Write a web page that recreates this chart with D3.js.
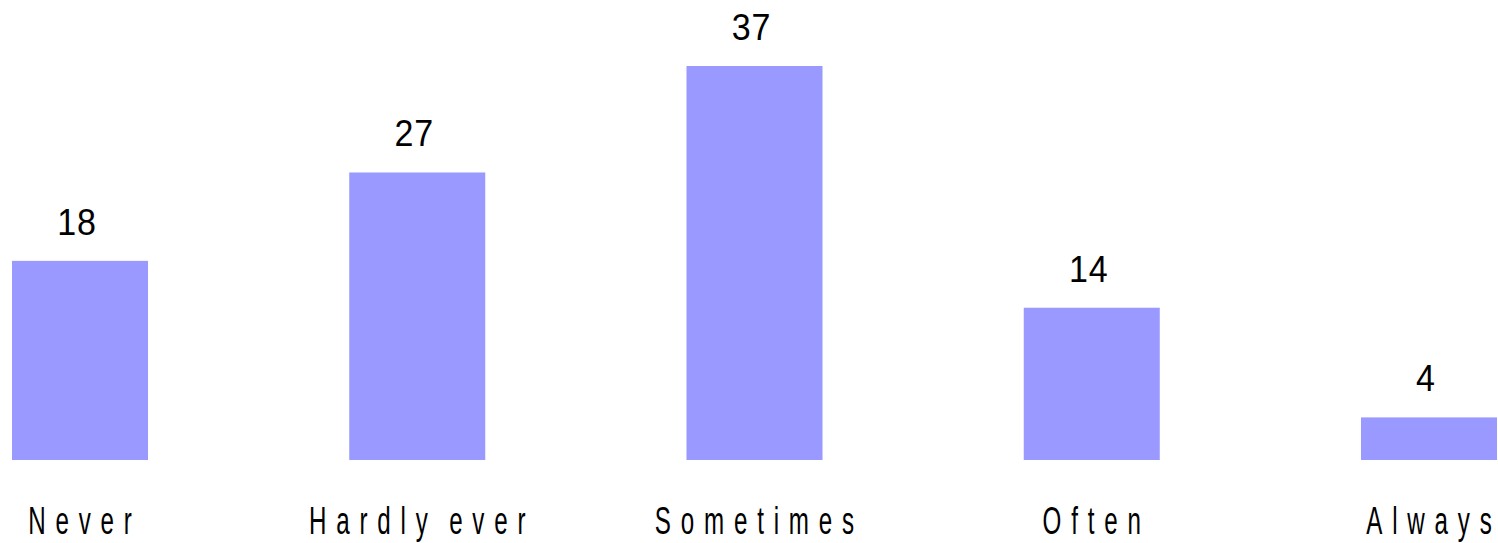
<!DOCTYPE html>
<html><head><meta charset="utf-8">
<script src="https://cdn.jsdelivr.net/npm/d3@7"></script>
<style>
body{margin:0;background:#fff;}
text{font-family:"Liberation Sans",Arial,sans-serif;fill:#000;}
</style></head>
<body><svg id="c" width="1498" height="543"></svg>
<script>
const categories = ["Never", "Hardly ever", "Sometimes", "Often", "Always"];
const values = [18.7, 27, 37, 14.3, 4];
const valueLabels = ["18", "27", "37", "14", "4"];

const svg = d3.select("#c");
const x = d3.scaleBand().domain(categories).range([12, 1497]).paddingInner(0.5967).paddingOuter(0);
const y = d3.scaleLinear().domain([0, 37]).range([460, 66]);

svg.selectAll("rect.bar").data(values).join("rect").attr("class","bar")
  .attr("x", (d,i) => x(categories[i]))
  .attr("y", d => y(d))
  .attr("width", x.bandwidth())
  .attr("height", d => y(0) - y(d))
  .attr("fill", "#9999ff");

svg.selectAll("text.val").data(values).join("text").attr("class","val")
  .attr("x", (d,i) => x(categories[i]) + x.bandwidth()/2 - 3)
  .attr("y", d => y(d) - 26)
  .attr("text-anchor","middle")
  .attr("transform", (d,i) => { const cx = x(categories[i]) + x.bandwidth()/2 - 3; return `translate(${cx},0) scale(0.92,1) translate(${-cx},0)`; })
  .style("font-size","37px").style("letter-spacing","1px")
  .text((d,i) => valueLabels[i]);

const sx = 0.62, ls = 15.8;
const xAxis = d3.axisBottom(x).tickSize(0).tickPadding(0);
const g = svg.append("g").attr("transform","translate(0,460)").call(xAxis);
g.select(".domain").remove();
g.selectAll("text").each(function(d) {
  const t = d3.select(this);
  t.text(null).attr("dy", null).attr("y", 74).attr("x", 0)
    .attr("transform", `scale(${sx},1)`)
    .style("font-size","39px")
    .style("font-family",'"Liberation Sans",Arial,sans-serif')
    .style("word-spacing","-8px")
    .attr("fill","#000");
  t.append("tspan").style("letter-spacing", ls + "px").text(d.slice(0, -1));
  t.append("tspan").style("letter-spacing", "0px").text(d.slice(-1));
});
</script></body></html>
